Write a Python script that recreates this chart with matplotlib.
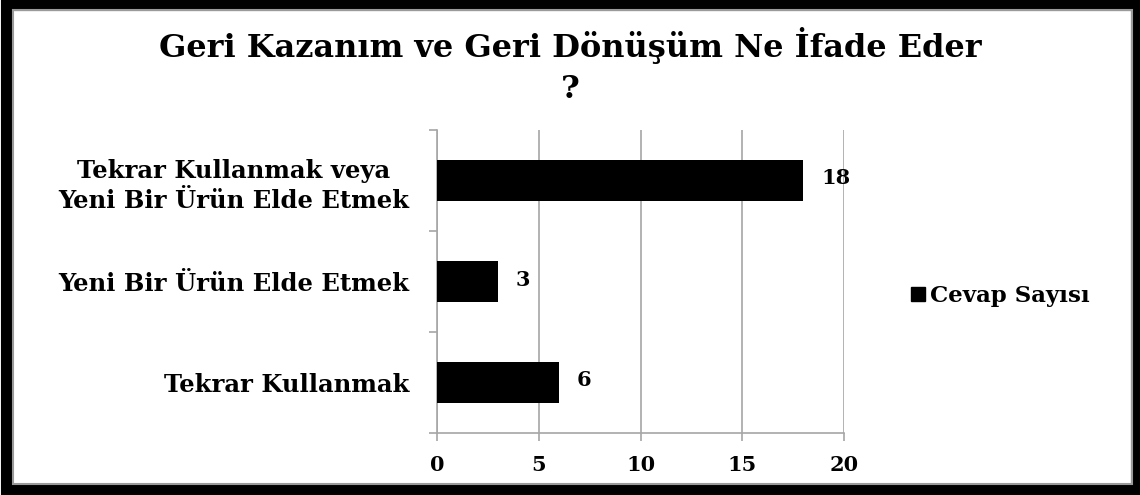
import matplotlib
matplotlib.use("Agg")
import matplotlib.pyplot as plt
from matplotlib.patches import Rectangle
from matplotlib.lines import Line2D

categories = ["Tekrar Kullanmak", "Yeni Bir Ürün Elde Etmek",
              "Tekrar Kullanmak veya\nYeni Bir Ürün Elde Etmek"]
values = [6, 3, 18]
series_name = "Cevap Sayısı"
title = "Geri Kazanım ve Geri Dönüşüm Ne İfade Eder\n?"
xticks = [0, 5, 10, 15, 20]

FONT = "DejaVu Serif"
GRAY = "#a6a6a6"

fig = plt.figure(figsize=(11.4, 4.95), dpi=100)
W, H = 1140, 495
ax = fig.add_axes([437 / W, (H - 433) / H, (844 - 437) / W, (433 - 130) / H])

pos = list(range(len(categories)))
bars = ax.barh(pos, values, height=0.4, color="black", label=series_name, zorder=3)
ax.set_ylim(-0.5, len(categories) - 0.5)
ax.set_xlim(0, 20)
ax.set_xticks(xticks)
ax.set_xticklabels([str(t) for t in xticks], fontfamily=FONT, fontweight="bold", fontsize=15)
ax.set_yticks(pos)
ax.set_yticklabels(categories, fontfamily=FONT, fontweight="bold", fontsize=17.5,
                   multialignment="center", linespacing=1.3)
ax.set_yticks([p - 0.5 for p in pos] + [len(categories) - 0.5], minor=True)
ax.tick_params(axis="y", which="major", length=0, pad=20)
ax.tick_params(axis="y", which="minor", length=6, color=GRAY, width=1.2)
ax.tick_params(axis="x", which="major", length=6, color=GRAY, width=1.2, pad=10)
ax.grid(axis="x", color=GRAY, linewidth=1.2, zorder=0)
for s in ["top", "right"]:
    ax.spines[s].set_visible(False)
for s in ["left", "bottom"]:
    ax.spines[s].set_color(GRAY)
    ax.spines[s].set_linewidth(1.2)

for b, v in zip(bars, values):
    ax.annotate(str(v), (b.get_width(), b.get_y() + b.get_height() / 2),
                xytext=(18, 2), textcoords="offset pixels",
                ha="left", va="center", fontfamily=FONT, fontweight="bold", fontsize=15)

fig.text(570 / W, 1 - 66 / H, title, ha="center", va="center", fontfamily=FONT,
         fontweight="bold", fontsize=23, linespacing=1.45)

handle = Line2D([], [], marker="s", color="black", linestyle="none", markersize=10)
fig.legend([handle], [series_name], loc="center left", bbox_to_anchor=(909 / W, 1 - 296 / H),
           frameon=False, prop={"family": FONT, "weight": "bold", "size": 16.5},
           handletextpad=0.1, handlelength=0.8, borderaxespad=0, borderpad=0)

fig.patches.append(Rectangle((6 / W, 5 / H), 1 - 10 / W, 1 - 10 / H, transform=fig.transFigure,
                             fill=False, edgecolor="black", linewidth=8, zorder=10))
fig.patches.append(Rectangle((13 / W, 11 / H), 1 - 21 / W, 1 - 20.5 / H, transform=fig.transFigure,
                             fill=False, edgecolor="#9a9a9a", linewidth=1.5, zorder=10))

fig.savefig("out.png", dpi=100)
